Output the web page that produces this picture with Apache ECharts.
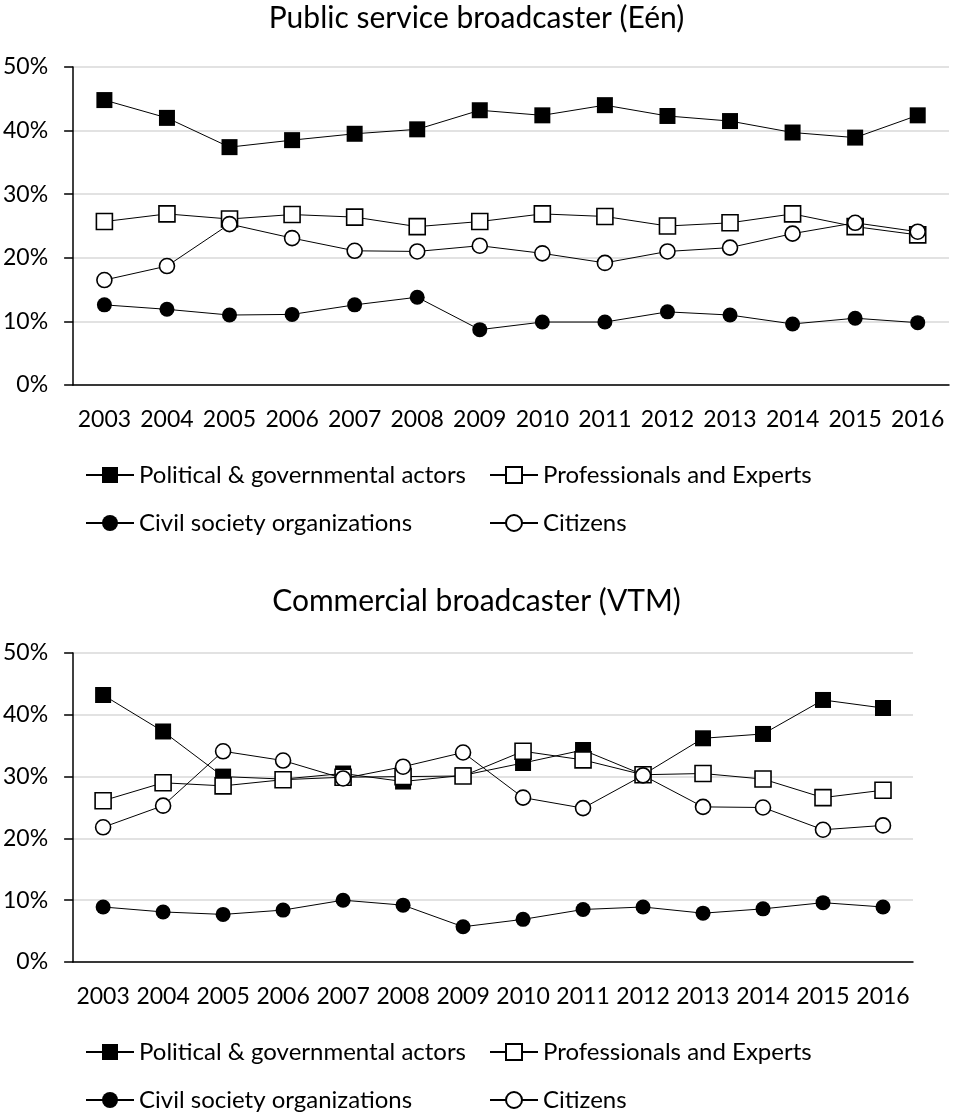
<!DOCTYPE html>
<html>
<head>
<meta charset="utf-8">
<script src="https://cdn.jsdelivr.net/npm/echarts@6/dist/echarts.min.js"></script>
<style>
html, body { margin: 0; padding: 0; background: #fff; }
#main { width: 953px; height: 1118px; }
</style>
</head>
<body>
<div id="main"></div>
<script>
var years = ['2003', '2004', '2005', '2006', '2007', '2008', '2009', '2010', '2011', '2012', '2013', '2014', '2015', '2016'];

// Public service broadcaster (Eén), in %
var eenPolitical = [44.8, 42.0, 37.4, 38.5, 39.5, 40.2, 43.2, 42.4, 44.0, 42.3, 41.5, 39.7, 38.9, 42.4];
var eenProfessionals = [25.7, 26.9, 26.1, 26.8, 26.4, 24.9, 25.7, 26.9, 26.5, 25.0, 25.5, 26.9, 24.9, 23.6];
var eenCivil = [12.6, 11.9, 11.0, 11.1, 12.6, 13.8, 8.7, 9.9, 9.9, 11.5, 11.0, 9.6, 10.5, 9.8];
var eenCitizens = [16.5, 18.7, 25.3, 23.1, 21.1, 21.0, 21.9, 20.7, 19.2, 21.0, 21.6, 23.8, 25.5, 24.1];

// Commercial broadcaster (VTM), in %
var vtmPolitical = [43.2, 37.3, 30.0, 29.6, 30.5, 29.2, 30.2, 32.2, 34.3, 30.3, 36.2, 36.9, 42.4, 41.1];
var vtmProfessionals = [26.1, 29.0, 28.5, 29.5, 29.9, 30.0, 30.1, 34.1, 32.7, 30.3, 30.5, 29.6, 26.6, 27.8];
var vtmCivil = [8.9, 8.1, 7.7, 8.4, 10.0, 9.2, 5.7, 6.9, 8.5, 8.9, 7.9, 8.6, 9.6, 8.9];
var vtmCitizens = [21.8, 25.3, 34.1, 32.6, 29.7, 31.6, 33.9, 26.6, 24.9, 30.2, 25.1, 25.0, 21.4, 22.1];

var names = ['Political & governmental actors', 'Professionals and Experts', 'Civil society organizations', 'Citizens'];
var titles = ['Public service broadcaster (Eén)', 'Commercial broadcaster (VTM)'];

var FONT = 'Lato';

var myChart = echarts.init(document.getElementById('main'));

function makeSeries(name, data, idx, symbol, filled)
{
    return {
        name: name,
        type: 'line',
        xAxisIndex: idx,
        yAxisIndex: idx,
        data: data,
        symbol: symbol,
        symbolSize: symbol == 'rect' ? 16 : 15,
        showAllSymbol: true,
        silent: true,
        lineStyle: { color: '#000', width: 1 },
        itemStyle: {
            color: filled ? '#000' : '#fff',
            borderColor: '#000',
            borderWidth: filled ? 0 : 1.6
        },
        emphasis: { disabled: true }
    };
}

function makeXAxis(idx)
{
    return {
        type: 'category',
        gridIndex: idx,
        data: years,
        axisLine: { lineStyle: { color: '#000', width: 1.5 } },
        axisTick: { length: 9, lineStyle: { color: '#000', width: 1.5 } },
        axisLabel: { interval: 0, color: '#000', fontFamily: FONT, fontSize: 23, margin: 23 },
        splitLine: { show: false }
    };
}

function makeYAxis(idx)
{
    return {
        type: 'value',
        gridIndex: idx,
        min: 0,
        max: 50,
        interval: 10,
        axisLine: { show: true, lineStyle: { color: '#000', width: 1.5 } },
        axisTick: { show: true, length: 9, lineStyle: { color: '#000', width: 1.5 } },
        axisLabel: { color: '#000', fontFamily: FONT, fontSize: 23, margin: 25, formatter: '{value}%' },
        splitLine: { lineStyle: { color: '#d9d9d9', width: 1.5 } }
    };
}

function makeLegend(left, top, data)
{
    return {
        orient: 'vertical',
        left: left,
        top: top,
        padding: 0,
        itemGap: 24,
        itemWidth: 48,
        itemHeight: 20,
        selectedMode: false,
        data: data,
        textStyle: { color: '#000', fontFamily: FONT, fontSize: 24 }
    };
}

var option = {
    animation: false,
    backgroundColor: '#fff',
    title: [
        { text: titles[0], left: 'center', top: 3, padding: 0,
          textStyle: { color: '#000', fontFamily: FONT, fontSize: 30, fontWeight: 'normal' } },
        { text: titles[1], left: 'center', top: 586, padding: 0,
          textStyle: { color: '#000', fontFamily: FONT, fontSize: 30, fontWeight: 'normal' } }
    ],
    legend: [
        makeLegend(85, 463, [names[0], names[2]]),
        makeLegend(489, 463, [names[1], names[3]]),
        makeLegend(85, 1040, [names[0], names[2]]),
        makeLegend(489, 1040, [names[1], names[3]])
    ],
    grid: [
        { left: 71, right: 4, top: 67, height: 318 },
        { left: 71, right: 40, top: 653, height: 309 }
    ],
    xAxis: [makeXAxis(0), makeXAxis(1)],
    yAxis: [makeYAxis(0), makeYAxis(1)],
    series: [
        makeSeries(names[0], eenPolitical, 0, 'rect', true),
        makeSeries(names[1], eenProfessionals, 0, 'rect', false),
        makeSeries(names[2], eenCivil, 0, 'circle', true),
        makeSeries(names[3], eenCitizens, 0, 'circle', false),
        makeSeries(names[0], vtmPolitical, 1, 'rect', true),
        makeSeries(names[1], vtmProfessionals, 1, 'rect', false),
        makeSeries(names[2], vtmCivil, 1, 'circle', true),
        makeSeries(names[3], vtmCitizens, 1, 'circle', false)
    ]
};

myChart.setOption(option);
</script>
</body>
</html>
